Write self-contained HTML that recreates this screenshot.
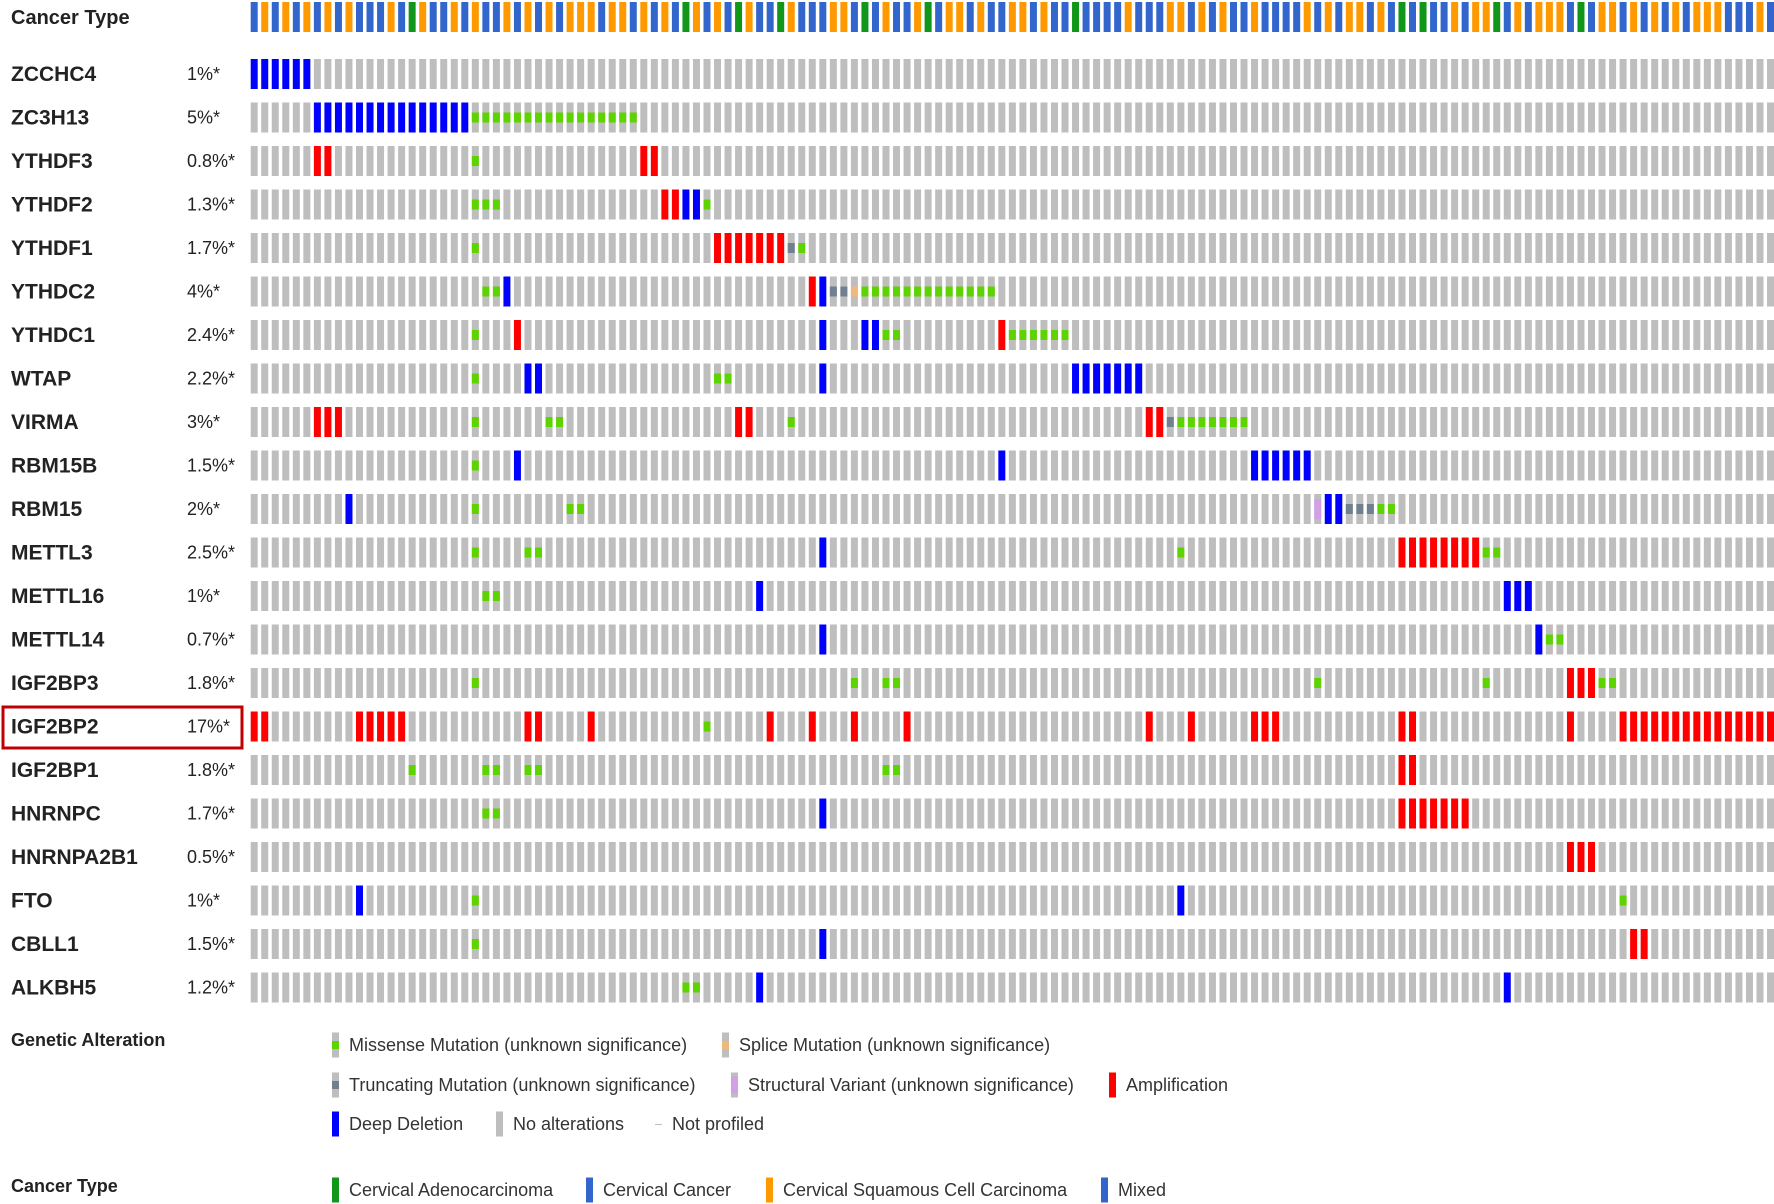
<!DOCTYPE html>
<html><head><meta charset="utf-8">
<style>
html,body{margin:0;padding:0;background:#fff;}
svg{display:block;}
text{font-family:"Liberation Sans",Arial,sans-serif;fill:#222;}
.g{font-weight:bold;font-size:21px;}
.p{font-size:18px;}
.l{font-size:18px;fill:#333;}
.h{font-weight:bold;font-size:18px;}
</style></head>
<body>
<svg id="s" xmlns="http://www.w3.org/2000/svg" width="1774" height="1204" viewBox="0 0 1774 1204">
<text class="g" x="11" y="24" style="font-size:20px">Cancer Type</text>
<rect x="3" y="707" width="239" height="41" fill="none" stroke="#c00000" stroke-width="3"/>
<g id="bars"></g>
<text class="h" x="11" y="1046">Genetic Alteration</text>
<text class="h" x="11" y="1192">Cancer Type</text>
<g id="leg"></g>
</svg>
<script>
var NS="http://www.w3.org/2000/svg";
var B=document.getElementById("bars"), L=document.getElementById("leg");
function R(p,x,y,w,h,c){var r=document.createElementNS(NS,"rect");r.setAttribute("x",x);r.setAttribute("y",y);r.setAttribute("width",w);r.setAttribute("height",h);r.setAttribute("fill",c);p.appendChild(r);}
function T(p,x,y,t,cls){var e=document.createElementNS(NS,"text");e.setAttribute("x",x);e.setAttribute("y",y);e.setAttribute("class",cls);e.textContent=t;p.appendChild(e);}
var N=145, X0=250.7, P=10.53, W=7;
var col={B:"#3366cc",O:"#ff9900",G:"#109618"};
var ct="BOBOBOBOBOBBBOBGOBBOBOBBOBOBOBOOOBOOBOBOBGOBOBGO"+"BBGOBBBOOBGBOBBOGBOOBOBBOOBOBBGBBBBOBBBOOBOBOBBO"+"BBBBOBOBOOBOBGBGBBOBOOGBOBOOOBGBOOBOBOBOBOOOBBBO";
for(var c=0;c<N;c++){R(B,X0+P*c,2,W,30,col[ct[c]]||"#3366cc");}
var genes=[["ZCCHC4","1%*"],["ZC3H13","5%*"],["YTHDF3","0.8%*"],["YTHDF2","1.3%*"],["YTHDF1","1.7%*"],["YTHDC2","4%*"],["YTHDC1","2.4%*"],["WTAP","2.2%*"],["VIRMA","3%*"],["RBM15B","1.5%*"],["RBM15","2%*"],["METTL3","2.5%*"],["METTL16","1%*"],["METTL14","0.7%*"],["IGF2BP3","1.8%*"],["IGF2BP2","17%*"],["IGF2BP1","1.8%*"],["HNRNPC","1.7%*"],["HNRNPA2B1","0.5%*"],["FTO","1%*"],["CBLL1","1.5%*"],["ALKBH5","1.2%*"]];
function rg(a,b){var r=[];for(var i=a;i<=b;i++)r.push(i);return r;}
var alt=[
 {d:rg(0,5)},
 {d:rg(6,20),m:rg(21,36)},
 {a:[6,7,37,38],m:[21]},
 {m:[21,22,23,43],a:[39,40],d:[41,42]},
 {m:[21,52],a:rg(44,50),t:[51]},
 {m:[22,23].concat(rg(58,70)),d:[24,54],a:[53],t:[55,56],s:[57]},
 {m:[21,60,61].concat(rg(72,77)),a:[25,71],d:[54,58,59]},
 {m:[21,44,45],d:[26,27,54].concat(rg(78,84))},
 {a:[6,7,8,46,47,85,86],m:[21,28,29,51].concat(rg(88,94)),t:[87]},
 {m:[21],d:[25,71].concat(rg(95,100))},
 {d:[9,102,103],m:[21,30,31,107,108],v:[101],t:[104,105,106]},
 {m:[21,26,27,88,117,118],d:[54],a:rg(109,116)},
 {m:[22,23],d:[48,119,120,121]},
 {d:[54,122],m:[123,124]},
 {m:[21,57,60,61,101,117,128,129],a:[125,126,127]},
 {a:[0,1].concat(rg(10,14),[26,27,32,49,53,57,62,85,89,95,96,97,109,110,125],rg(130,144)),m:[43]},
 {m:[15,22,23,26,27,60,61],a:[109,110]},
 {m:[22,23],d:[54],a:rg(109,115)},
 {a:[125,126,127]},
 {d:[10,88],m:[21,130]},
 {m:[21],d:[54],a:[131,132]},
 {m:[41,42],d:[48,119]}
];
var Y0=59, RP=43.5, H=30;
for(var g=0;g<genes.length;g++){
 var y=Y0+RP*g, cy=y+H/2;
 T(B,11,cy+7,genes[g][0],"g");
 T(B,187,cy+6,genes[g][1],"p");
 var a=alt[g], map={};
 for(var k in a) a[k].forEach(function(i){map[i]=k;});
 for(var c=0;c<N;c++){
  var x=X0+P*c, k=map[c];
  if(k==="d") R(B,x,y,W,H,"#0000ff");
  else if(k==="a") R(B,x,y,W,H,"#ff0000");
  else {
   R(B,x,y,W,H,"#bebebe");
   if(k==="m") R(B,x,cy-5,W,10,"#5dd300");
   else if(k==="t") R(B,x,cy-5,W,10,"#708090");
   else if(k==="s") R(B,x,cy-5,W,10,"#f0b87b");
   else if(k==="v") R(B,x,y+5,W,H-10,"#d39fe6");
  }
 }
}
function LI(x,y,type,label){
 var h=25, top=y-h/2;
 if(type==="m"||type==="t"||type==="s"||type==="v"){R(L,x,top,7,h,"#bebebe");}
 if(type==="m")R(L,x,y-4,7,8,"#5dd300");
 if(type==="t")R(L,x,y-4,7,8,"#708090");
 if(type==="s")R(L,x,y-4,7,8,"#f0b87b");
 if(type==="v")R(L,x,top+4,7,h-8,"#d39fe6");
 if(type==="a")R(L,x,top,7,h,"#ff0000");
 if(type==="d")R(L,x,top,7,h,"#0000ff");
 if(type==="n")R(L,x,top,7,h,"#bebebe");
 if(type==="np")R(L,x,y,7,1,"#bebebe");
 if(type==="G")R(L,x,top,7,h,"#109618");
 if(type==="B")R(L,x,top,7,h,"#3366cc");
 if(type==="O")R(L,x,top,7,h,"#ff9900");
 T(L,x+17,y+6,label,"l");
}
LI(332,1045,"m","Missense Mutation (unknown significance)");
LI(722,1045,"s","Splice Mutation (unknown significance)");
LI(332,1085,"t","Truncating Mutation (unknown significance)");
LI(731,1085,"v","Structural Variant (unknown significance)");
LI(1109,1085,"a","Amplification");
LI(332,1124,"d","Deep Deletion");
LI(496,1124,"n","No alterations");
LI(655,1124,"np","Not profiled");
LI(332,1190,"G","Cervical Adenocarcinoma");
LI(586,1190,"B","Cervical Cancer");
LI(766,1190,"O","Cervical Squamous Cell Carcinoma");
LI(1101,1190,"B","Mixed");
</script>
</body></html>
